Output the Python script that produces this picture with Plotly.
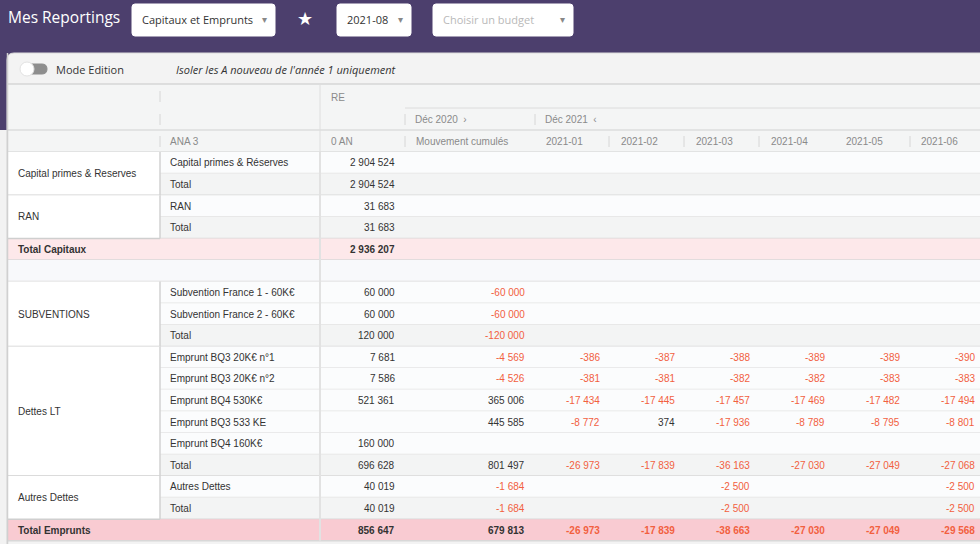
import plotly.graph_objects as go

# ---- data -------------------------------------------------------------
row_groups = ["Capital primes & Reserves", "Capital primes & Reserves", "RAN", "RAN", "", "",
              "SUBVENTIONS", "SUBVENTIONS", "SUBVENTIONS",
              "Dettes LT", "Dettes LT", "Dettes LT", "Dettes LT", "Dettes LT", "Dettes LT",
              "Autres Dettes", "Autres Dettes", ""]
row_labels = ["Capital primes & Réserves", "Total", "RAN", "Total", "Total Capitaux", "",
              "Subvention France 1 - 60K€", "Subvention France 2 - 60K€", "Total",
              "Emprunt BQ3 20K€ n°1", "Emprunt BQ3 20K€ n°2", "Emprunt BQ4 530K€",
              "Emprunt BQ3 533 KE", "Emprunt BQ4 160K€", "Total",
              "Autres Dettes", "Total", "Total Emprunts"]
row_kinds = ["line", "total", "line", "total", "grand", "blank",
             "line", "line", "total",
             "line", "line", "line", "line", "line", "total",
             "line", "total", "grand2"]

col_names = ["0 AN", "Mouvement cumulés", "2021-01", "2021-02", "2021-03", "2021-04", "2021-05", "2021-06"]
N = None
val_0an = [2904524, 2904524, 31683, 31683, 2936207, N, 60000, 60000, 120000,
           7681, 7586, 521361, N, 160000, 696628, 40019, 40019, 856647]
val_mvt = [N, N, N, N, N, N, -60000, -60000, -120000,
           -4569, -4526, 365006, 445585, N, 801497, -1684, -1684, 679813]
val_m01 = [N] * 9 + [-386, -381, -17434, -8772, N, -26973, N, N, -26973]
val_m02 = [N] * 9 + [-387, -381, -17445, 374, N, -17839, N, N, -17839]
val_m03 = [N] * 9 + [-388, -382, -17457, -17936, N, -36163, -2500, -2500, -38663]
val_m04 = [N] * 9 + [-389, -382, -17469, -8789, N, -27030, N, N, -27030]
val_m05 = [N] * 9 + [-389, -383, -17482, -8795, N, -27049, N, N, -27049]
val_m06 = [N] * 9 + [-390, -383, -17494, -8801, N, -27068, -2500, -2500, -29568]
values = [val_0an, val_mvt, val_m01, val_m02, val_m03, val_m04, val_m05, val_m06]

# ---- layout constants ---------------------------------------------------
W, H = 980, 544
x_edges = [8, 160, 320, 405, 535, 610, 685, 760, 835, 910, 985]
y_top = 152
rh = 21.6
purple = "#4c3f6d"
neg_col = "#f2603f"
txt_col = "#333333"
head_col = "#8a8a8a"
bgs = {"line": "#fbfcfd", "total": "#f3f4f4", "grand": "#fde8ea", "blank": "#f8f9fb", "grand2": "#f9cbd2"}
TFONT = "Liberation Sans, Arial, sans-serif"
UFONT = "Open Sans, sans-serif"

shapes = []
annots = []


def rect(x0, x1, y0, y1, fill, line_col=None, lw=0):
    shapes.append(dict(type="rect", xref="x", yref="y", x0=x0, x1=x1, y0=y0, y1=y1,
                       fillcolor=fill, line=dict(color=line_col or fill, width=lw), layer="below"))


def line(x0, y0, x1, y1, col, w=1):
    shapes.append(dict(type="line", xref="x", yref="y", x0=x0, x1=x1, y0=y0, y1=y1,
                       line=dict(color=col, width=w), layer="below"))


def rrect(x0, y0, x1, y1, r, fill, line_col=None):
    p = (f"M {x0+r},{y0} L {x1-r},{y0} Q {x1},{y0} {x1},{y0+r} L {x1},{y1-r} Q {x1},{y1} {x1-r},{y1} "
         f"L {x0+r},{y1} Q {x0},{y1} {x0},{y1-r} L {x0},{y0+r} Q {x0},{y0} {x0+r},{y0} Z")
    shapes.append(dict(type="path", xref="x", yref="y", path=p, fillcolor=fill,
                       line=dict(color=line_col or fill, width=1), layer="below"))


def text(x, y, s, size=10, col=txt_col, anchor="left", family=TFONT, **kw):
    annots.append(dict(x=x, y=y, xref="x", yref="y", text=s, showarrow=False, xanchor=anchor,
                       yanchor="middle", font=dict(size=size, color=col, family=family), **kw))


def fmt(v):
    s = f"{abs(v):,}".replace(",", "\u00a0")
    return ("-" if v < 0 else "") + s


# ---- top bar ------------------------------------------------------------
rect(0, W, 0, 130, purple)
shapes.append(dict(type="path", xref="x", yref="y", fillcolor="#f3f3f3", line=dict(color="#dcdcdc", width=1),
                   path=f"M 7,{H+5} L 7,60 Q 7,53 14,53 L 990,53 L 990,{H+5} Z", layer="below"))
text(6, 17, "Mes Reportings", size=15.5, col="white", family=UFONT)
top_boxes = [(132, 275, "Capitaux et Emprunts", txt_col), (337, 411, "2021-08", txt_col),
             (433, 573, "Choisir un budget", "#b9b9b9")]
for bx0, bx1, lab, c in top_boxes:
    rrect(bx0, 4, bx1, 36, 3, "white")
    text(bx0 + 8, 19, lab, size=11, col=c, family=UFONT)
    text(bx1 - 6, 19, "▾", size=10, col="#888", anchor="right")
text(305, 19, "★", size=18, col="white", anchor="center")

# toolbar
rrect(26, 64, 47, 74, 5, "#8e8e8e")
shapes.append(dict(type="circle", xref="x", yref="y", x0=20, x1=34, y0=62, y1=76, fillcolor="white",
                   line=dict(color="#e2e2e2", width=1)))
text(54, 69, "Mode Edition", size=11, col=txt_col, family=UFONT)
text(174, 69, "<i>Isoler les A nouveau de l'année 1 uniquement</i>", size=11, col=txt_col,
     family=UFONT)

# ---- table header -------------------------------------------------------
rect(8, 990, 84, 152, "#f4f5f5")
line(8, 84, 990, 84, "#d6d6d6", 1.5)
line(405, 108, 990, 108, "#dcdcdc", 1)
line(8, 130, 990, 130, "#dcdcdc", 1.5)
line(8, 152, 990, 152, "#dcdcdc", 1.5)
line(320, 84, 320, 152, "#dedede", 1)
for yy in (91, 114, 136):
    line(160, yy, 160, yy + 11, "#d6d6d6", 1)
line(405, 114, 405, 125, "#d6d6d6", 1)
line(535, 114, 535, 125, "#d6d6d6", 1)
line(405, 136, 405, 147, "#d6d6d6", 1)
for xx in (609, 684, 759, 910):
    line(xx, 136, xx, 147, "#d6d6d6", 1)
text(329, 97, "RE", col=head_col)
text(413, 119, "Déc 2020  ›", col=head_col)
text(543, 119, "Déc 2021  ‹", col=head_col)
text(168, 141, "ANA 3", col=head_col)
for j, name in enumerate(col_names):
    text(x_edges[j + 2] + 9, 141, name, col=head_col)

# ---- table body ---------------------------------------------------------
n = len(row_labels)
for i, kind in enumerate(row_kinds):
    ya, yb = y_top + i * rh, y_top + (i + 1) * rh
    full = kind in ("grand", "grand2", "blank")
    rect(8 if full else 160, 990, ya, yb, bgs[kind])
    last_in_group = i == n - 1 or row_groups[i + 1] != row_groups[i] or full
    line(8 if (full or last_in_group) else 160, yb, 990, yb, "#e4e4e4" if not last_in_group else "#d8d8d8", 1.5)
    ym = (ya + yb) / 2
    bold = kind in ("grand", "grand2")
    if bold:
        text(16, ym, f"<b>{row_labels[i]}</b>")
    elif row_labels[i]:
        text(168, ym, row_labels[i])
    for j, col_vals in enumerate(values):
        v = col_vals[i]
        if v is None:
            continue
        s = fmt(v)
        text(x_edges[j + 3] - 8, ym, f"<b>{s}</b>" if bold else s, col=neg_col if v < 0 else txt_col, anchor="right")

# group column (merged cells)
i = 0
while i < n:
    g = row_groups[i]
    k = i
    while k < n and row_groups[k] == g:
        k += 1
    if g:
        ya, yb = y_top + i * rh, y_top + k * rh
        rect(8, 160, ya, yb, "white")
        line(8, yb, 160, yb, "#cfcfcf", 1.5)
        line(160, ya, 160, yb, "#d2d2d2", 1.5)
        text(16, (ya + yb) / 2, g)
    i = k

line(320, y_top, 320, y_top + n * rh, "#e2e2e2", 2)
line(7.5, 53, 7.5, H, "#d0d0d0", 1.5)

fig = go.Figure()
fig.add_trace(go.Scatter(x=[0, W], y=[0, H], mode="markers", marker=dict(opacity=0), hoverinfo="skip"))
fig.update_layout(
    width=W, height=H, margin=dict(l=0, r=0, t=0, b=0),
    paper_bgcolor="#f2f2f2", plot_bgcolor="#f2f2f2", showlegend=False,
    xaxis=dict(range=[0, W], visible=False, fixedrange=True),
    yaxis=dict(range=[H, 0], visible=False, fixedrange=True),
    shapes=shapes, annotations=annots,
)
fig.write_html("out.html", config={"displayModeBar": False},
               post_script="document.body.style.margin='0';document.body.style.overflow='hidden';")
